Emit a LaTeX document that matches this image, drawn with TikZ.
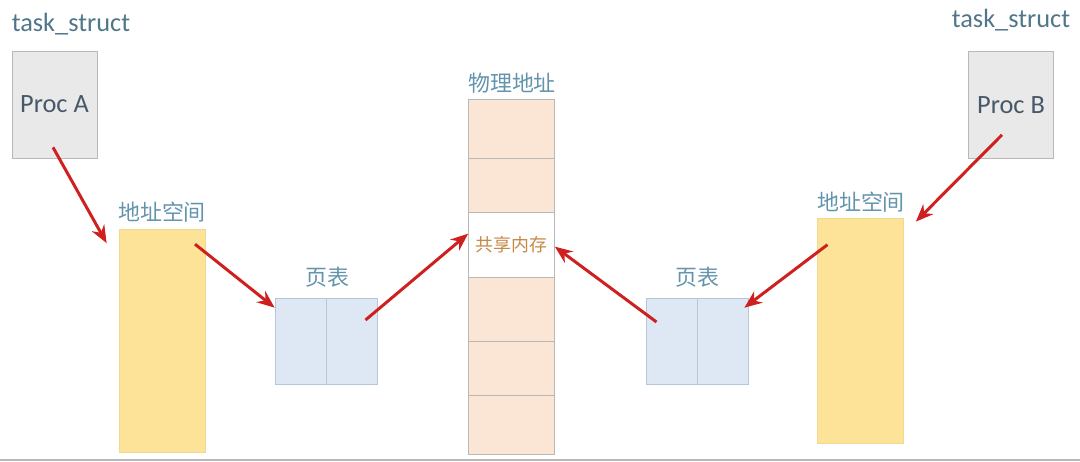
\documentclass[tikz,border=0pt]{standalone}
\usepackage{fontspec}
\setmainfont{Carlito}
\newfontfamily\cjk{Noto Sans CJK SC}
\usetikzlibrary{arrows.meta}
\definecolor{procgray}{HTML}{E9E9E9}
\definecolor{procline}{HTML}{B8B8B8}
\definecolor{spaceyellow}{HTML}{FDE398}
\definecolor{ptblue}{HTML}{DDE8F4}
\definecolor{ptline}{HTML}{B4C8DC}
\definecolor{physpeach}{HTML}{FBE6D6}
\definecolor{labelblue}{HTML}{6494AC}
\definecolor{procink}{HTML}{47586A}
\definecolor{sharedink}{HTML}{C68A48}
\definecolor{arrowred}{HTML}{CF2020}
\tikzset{
  proc/.style={draw=procline,fill=procgray,minimum width=1.7cm,minimum height=2.14cm,
    text=procink,font=\fontsize{15}{18}\selectfont},
  space/.style={draw=spaceyellow!85!black!30!spaceyellow,fill=spaceyellow,minimum width=1.72cm},
  ptcell/.style={draw=ptline,fill=ptblue,minimum width=1.02cm,minimum height=1.72cm},
  physcell/.style={draw=procline,fill=physpeach,minimum width=1.72cm},
  lbl/.style={text=labelblue,font=\cjk\fontsize{12.5}{15}\selectfont},
  tslbl/.style={text=labelblue!80!black,font=\fontsize{15}{18}\selectfont},
  arr/.style={-{Stealth[length=10pt,width=8pt]},draw=arrowred,line width=1.7pt}
}
\begin{document}
\begin{tikzpicture}[x=0.02cm,y=-0.02cm]
\useasboundingbox (0,0) rectangle (1080,461);
\fill[procline] (0,459) rectangle (1080,461);
% processes
\node[tslbl](tsA)at(71,24){task\_struct};
\node[tslbl](tsB)at(1011,20){task\_struct};
\node[proc](procA)at(54.5,104.5){Proc A};
\node[proc](procB)at(1011,105){Proc B};
% address spaces
\node[lbl](lsA)at(162,212){地址空间};
\node[lbl](lsB)at(861,202){地址空间};
\node[space,minimum height=4.46cm](spaceA)at(162,341){};
\node[space,minimum height=4.5cm](spaceB)at(860.5,330.5){};
% page tables
\node[lbl](lpA)at(327,277){页表};
\node[lbl](lpB)at(697,277){页表};
\node[ptcell](ptA1)at(300.5,341){};
\node[ptcell](ptA2)at(351.5,341){};
\node[ptcell](ptB1)at(671.5,341){};
\node[ptcell](ptB2)at(722.5,341){};
% physical memory
\node[lbl](lphys)at(512,83){物理地址};
\node[physcell,minimum height=1.18cm](m1)at(511.5,128.5){};
\node[physcell,minimum height=1.08cm](m2)at(511.5,185.5){};
\node[draw=procline,fill=white,minimum width=1.72cm,minimum height=1.3cm,
  text=sharedink,font=\cjk\fontsize{10.2}{12}\selectfont](shm)at(511.5,244.5){共享内存};
\node[physcell,minimum height=1.28cm](m4)at(511.5,309){};
\node[physcell,minimum height=1.08cm](m5)at(511.5,368){};
\node[physcell,minimum height=1.18cm](m6)at(511.5,424.5){};
% mappings
\draw[arr]([shift={(-1.5,-11)}]procA.south)--([shift={(-12,14)}]spaceA.north west);
\draw[arr]([shift={(33,15)}]spaceA.north)--([shift={(0,10)}]ptA1.north west);
\draw[arr]([shift={(14,-21)}]ptA2.center)--([shift={(0,22)}]shm.north west);
\draw[arr]([shift={(-15,-19)}]ptB1.center)--([shift={(0,35)}]shm.north east);
\draw[arr]([shift={(-33,27)}]spaceB.north)--([shift={(-4,10)}]ptB2.north east);
\draw[arr]([shift={(-9,-24)}]procB.south)--([shift={(12,4)}]spaceB.north east);
\end{tikzpicture}
\end{document}
